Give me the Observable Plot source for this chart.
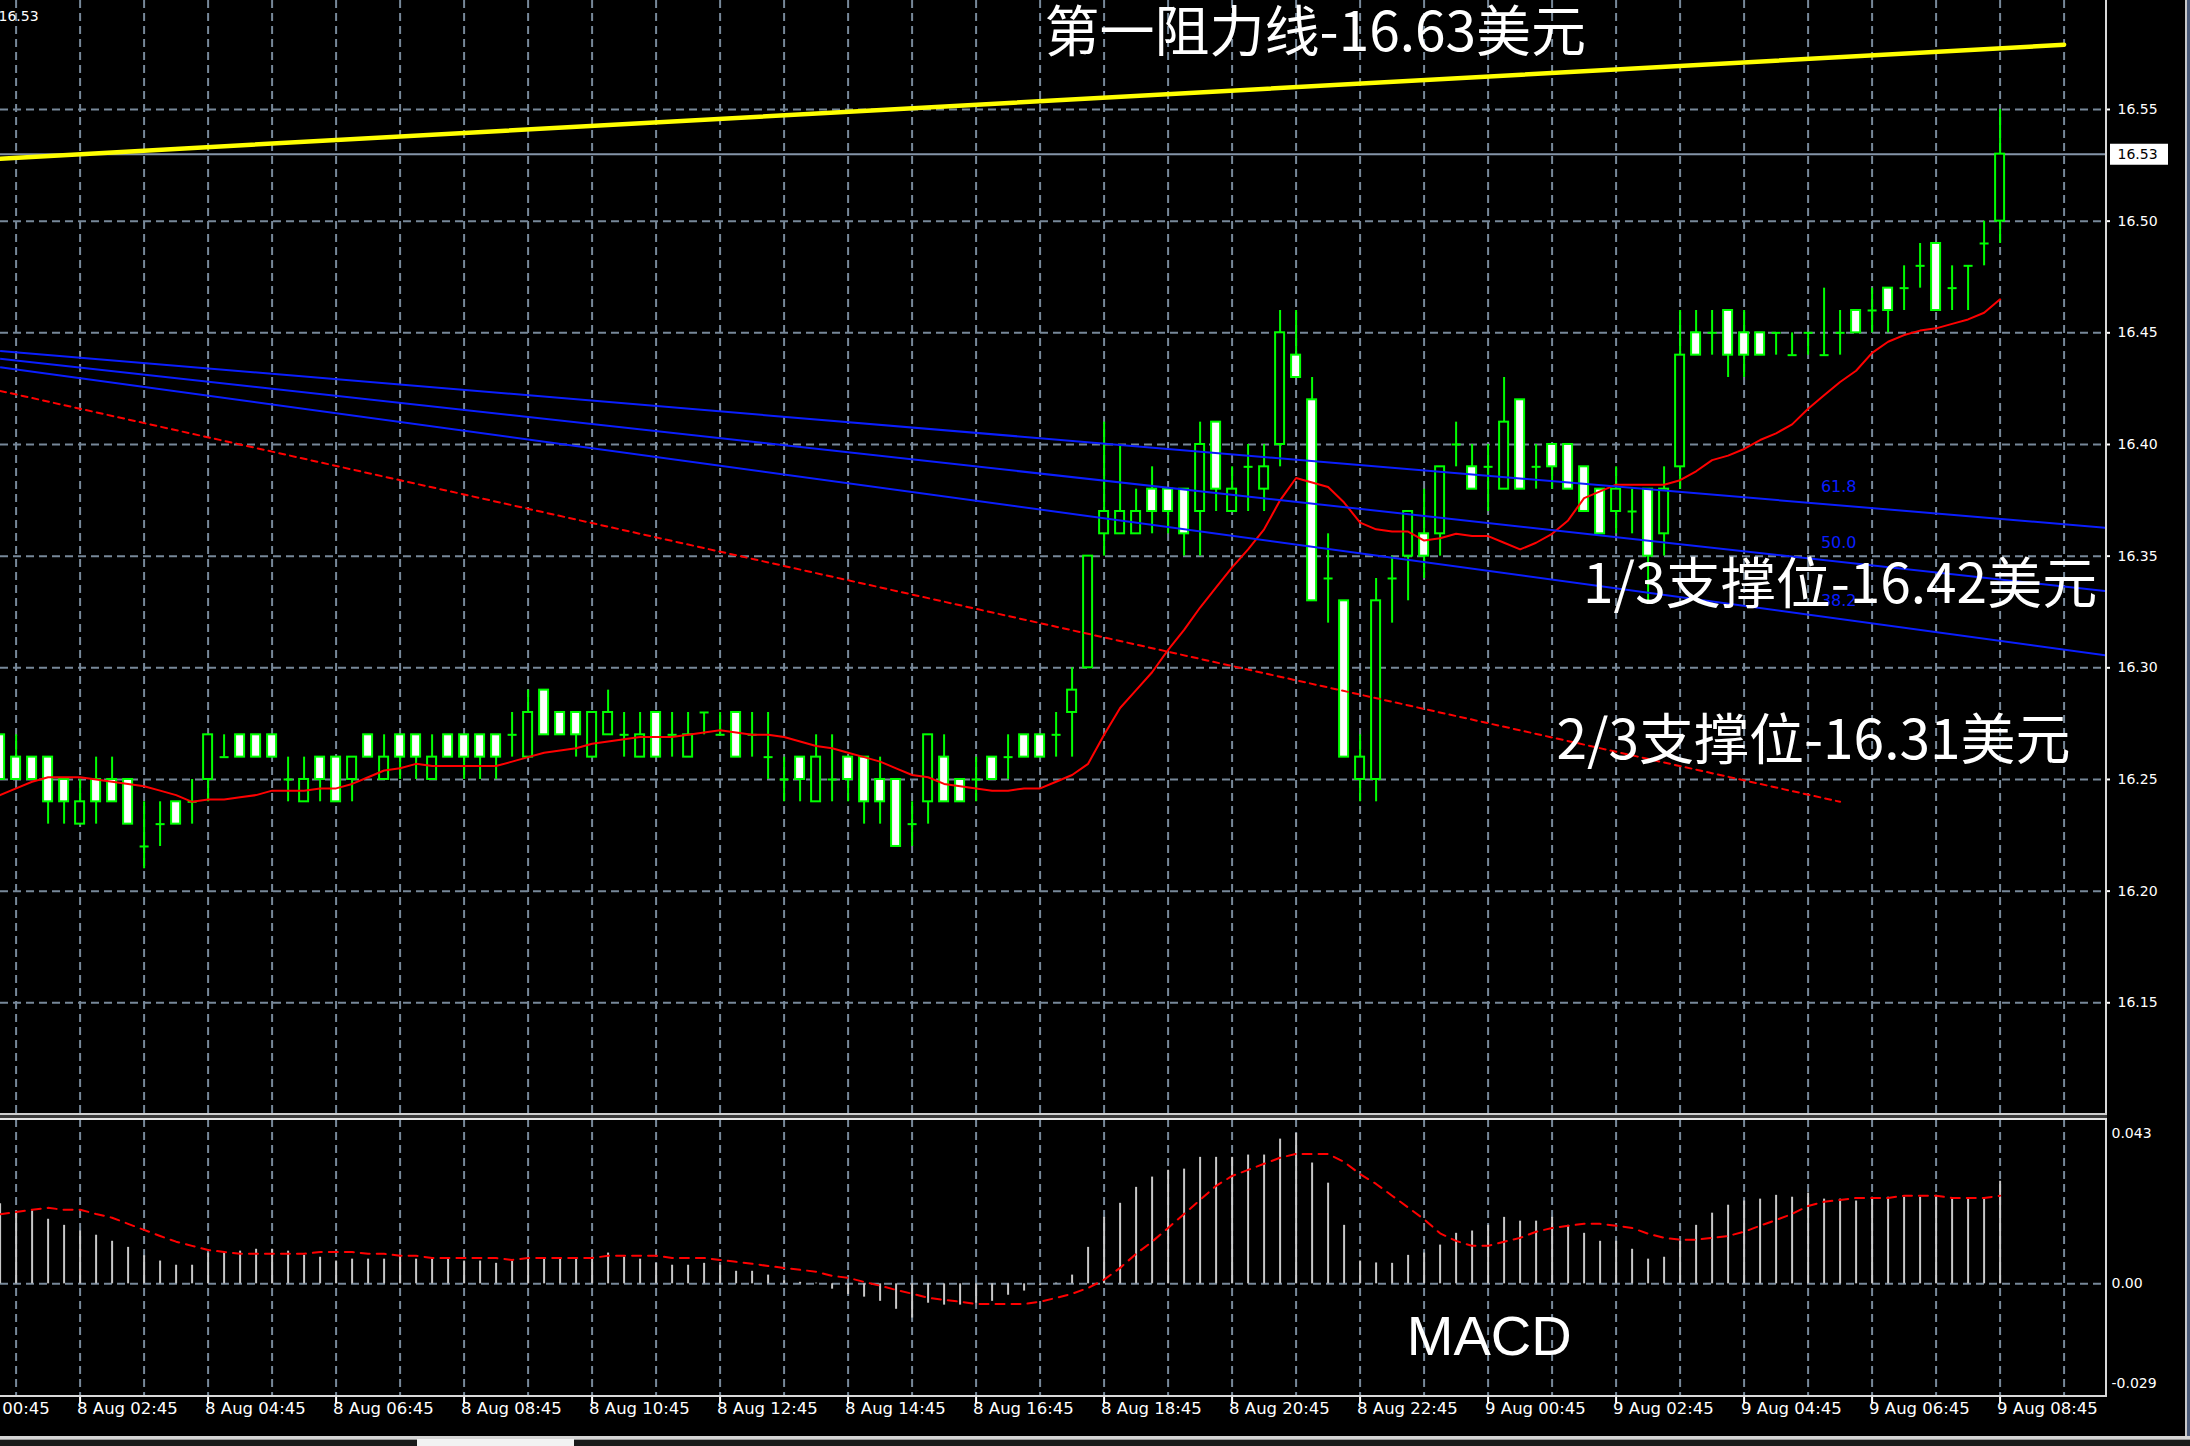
<!DOCTYPE html>
<html>
<head>
<meta charset="utf-8">
<script src="https://cdn.jsdelivr.net/npm/d3@7"></script>
<script src="https://cdn.jsdelivr.net/npm/@observablehq/plot@0.6"></script>
<style>
  html, body { margin: 0; padding: 0; background: #000; }
  #chart { position: relative; width: 2190px; height: 1446px; background: #000; overflow: hidden; }
  #price, #macd { position: absolute; left: 0; }
  #price { top: 0; }
  #macd { top: 1113px; }
  .edge { position: absolute; }
</style>
</head>
<body>
<div id="chart">
  <div id="price"></div>
  <div id="macd"></div>
  <!-- window chrome: panel borders, separator, tab strip -->
  <div class="edge" style="left:2105px;top:0;width:2px;height:1397px;background:#d8d8d8"></div>
  <div class="edge" style="left:0;top:1113px;width:2107px;height:2px;background:#cfcfcf"></div>
  <div class="edge" style="left:0;top:1115px;width:2107px;height:3px;background:#3a3a3a"></div>
  <div class="edge" style="left:0;top:1118px;width:2107px;height:2px;background:#e6e6e6"></div>
  <div class="edge" style="left:0;top:1395px;width:2107px;height:2px;background:#d8d8d8"></div>
  <div class="edge" style="left:2185px;top:0;width:2px;height:1440px;background:#c8c8c8"></div>
  <div class="edge" style="left:2187px;top:0;width:3px;height:1440px;background:#4a5a78"></div>
  <div class="edge" style="left:0;top:1436px;width:2190px;height:3px;background:#d4d4d4"></div>
  <div class="edge" style="left:0;top:1439px;width:417px;height:7px;background:#1a1a1a;border-top:1px solid #9a9a9a"></div>
  <div class="edge" style="left:417px;top:1439px;width:157px;height:7px;background:#f2f2f2"></div>
  <div class="edge" style="left:574px;top:1439px;width:1616px;height:7px;background:#1a1a1a;border-top:1px solid #9a9a9a"></div>
</div>
<script>
// XAGUSD, 15-minute bars, 8 Aug 01:30 – 9 Aug 08:45
const firstBar = "2017-08-08T01:30Z";
const barMinutes = 15;

const open = [
  16.27,16.26,16.26,16.26,16.25,16.23,16.25,16.25,16.25,16.22,
  16.23,16.24,16.24,16.25,16.26,16.27,16.27,16.27,16.25,16.24,
  16.26,16.26,16.25,16.27,16.25,16.27,16.27,16.25,16.27,16.27,
  16.27,16.27,16.27,16.26,16.29,16.28,16.28,16.26,16.27,16.27,
  16.26,16.28,16.27,16.26,16.28,16.27,16.28,16.27,16.26,16.25,
  16.26,16.24,16.25,16.26,16.26,16.25,16.25,16.23,16.24,16.26,
  16.25,16.25,16.26,16.26,16.27,16.27,16.27,16.28,16.30,16.36,
  16.36,16.36,16.38,16.38,16.38,16.37,16.41,16.37,16.39,16.38,
  16.40,16.44,16.42,16.34,16.33,16.25,16.25,16.34,16.35,16.36,
  16.36,16.40,16.39,16.39,16.38,16.42,16.39,16.40,16.40,16.39,
  16.38,16.37,16.37,16.38,16.36,16.39,16.45,16.45,16.46,16.45,
  16.45,16.45,16.44,16.45,16.44,16.45,16.46,16.46,16.47,16.47,
  16.48,16.49,16.47,16.48,16.49,16.50
];
const high = [
  16.27,16.27,16.26,16.26,16.25,16.25,16.26,16.26,16.25,16.24,
  16.24,16.24,16.25,16.27,16.27,16.27,16.27,16.27,16.26,16.26,
  16.26,16.26,16.26,16.27,16.27,16.27,16.27,16.27,16.27,16.27,
  16.27,16.27,16.28,16.29,16.29,16.28,16.28,16.28,16.29,16.28,
  16.28,16.28,16.28,16.28,16.28,16.28,16.28,16.28,16.28,16.26,
  16.26,16.27,16.27,16.26,16.26,16.26,16.25,16.24,16.27,16.27,
  16.25,16.26,16.26,16.27,16.27,16.27,16.28,16.30,16.35,16.41,
  16.40,16.38,16.39,16.38,16.38,16.41,16.41,16.39,16.40,16.40,
  16.46,16.46,16.43,16.36,16.33,16.27,16.34,16.35,16.37,16.38,
  16.39,16.41,16.40,16.40,16.43,16.42,16.40,16.40,16.40,16.39,
  16.38,16.39,16.38,16.38,16.39,16.46,16.46,16.46,16.46,16.46,
  16.45,16.45,16.45,16.45,16.47,16.46,16.46,16.47,16.47,16.48,
  16.49,16.49,16.48,16.48,16.50,16.55
];
const low = [
  16.25,16.25,16.25,16.23,16.23,16.23,16.23,16.24,16.23,16.21,
  16.22,16.23,16.23,16.24,16.26,16.26,16.26,16.26,16.24,16.24,
  16.24,16.24,16.24,16.26,16.25,16.25,16.25,16.25,16.26,16.25,
  16.25,16.25,16.26,16.26,16.27,16.27,16.26,16.26,16.27,16.26,
  16.26,16.26,16.26,16.26,16.27,16.27,16.26,16.26,16.25,16.24,
  16.24,16.24,16.24,16.24,16.23,16.23,16.22,16.22,16.23,16.24,
  16.24,16.24,16.25,16.25,16.26,16.26,16.26,16.26,16.30,16.35,
  16.36,16.36,16.36,16.36,16.35,16.35,16.37,16.37,16.37,16.37,
  16.39,16.43,16.33,16.32,16.26,16.24,16.24,16.32,16.33,16.34,
  16.35,16.39,16.38,16.37,16.38,16.38,16.38,16.38,16.38,16.37,
  16.36,16.36,16.36,16.33,16.35,16.38,16.44,16.44,16.43,16.43,
  16.44,16.44,16.44,16.44,16.44,16.44,16.45,16.45,16.45,16.46,
  16.47,16.46,16.46,16.46,16.48,16.49
];
const close = [
  16.25,16.25,16.25,16.24,16.24,16.24,16.24,16.24,16.23,16.22,
  16.23,16.23,16.24,16.27,16.26,16.26,16.26,16.26,16.25,16.25,
  16.25,16.24,16.26,16.26,16.26,16.26,16.26,16.26,16.26,16.26,
  16.26,16.26,16.27,16.28,16.27,16.27,16.27,16.28,16.28,16.27,
  16.27,16.26,16.27,16.27,16.28,16.27,16.26,16.27,16.26,16.25,
  16.25,16.26,16.25,16.25,16.24,16.24,16.22,16.23,16.27,16.24,
  16.24,16.25,16.25,16.26,16.26,16.26,16.27,16.29,16.35,16.37,
  16.37,16.37,16.37,16.37,16.36,16.40,16.38,16.38,16.39,16.39,
  16.45,16.43,16.33,16.34,16.26,16.26,16.33,16.34,16.37,16.35,
  16.39,16.40,16.38,16.39,16.41,16.38,16.39,16.39,16.38,16.37,
  16.36,16.38,16.37,16.35,16.38,16.44,16.44,16.45,16.44,16.44,
  16.44,16.45,16.44,16.45,16.44,16.45,16.45,16.46,16.46,16.47,
  16.48,16.46,16.47,16.48,16.49,16.53
];
// moving average drawn over the candles
const ma = [
  16.243,16.246,16.249,16.251,16.251,16.251,16.250,16.249,16.248,16.247,
  16.245,16.243,16.240,16.241,16.241,16.242,16.243,16.245,16.245,16.245,
  16.246,16.246,16.248,16.251,16.254,16.255,16.257,16.256,16.256,16.256,
  16.256,16.256,16.258,16.260,16.262,16.263,16.264,16.266,16.267,16.268,
  16.269,16.269,16.269,16.270,16.271,16.272,16.271,16.270,16.270,16.269,
  16.267,16.265,16.264,16.262,16.260,16.258,16.255,16.252,16.251,16.248,
  16.247,16.246,16.245,16.245,16.246,16.246,16.249,16.252,16.257,16.270,
  16.282,16.290,16.298,16.308,16.317,16.327,16.336,16.345,16.353,16.362,
  16.375,16.385,16.383,16.381,16.374,16.365,16.362,16.361,16.361,16.357,
  16.358,16.360,16.359,16.359,16.356,16.353,16.356,16.360,16.366,16.376,
  16.379,16.382,16.382,16.382,16.382,16.384,16.388,16.393,16.395,16.398,
  16.402,16.405,16.409,16.416,16.422,16.428,16.433,16.441,16.446,16.449,
  16.451,16.452,16.454,16.456,16.459,16.465
];
// MACD main (histogram) and signal
const macd = [
  0.0211,0.0189,0.0192,0.0170,0.0154,0.0139,0.0128,0.0112,0.0096,0.0074,
  0.0060,0.0049,0.0049,0.0081,0.0082,0.0086,0.0091,0.0091,0.0086,0.0075,
  0.0070,0.0060,0.0065,0.0065,0.0065,0.0075,0.0065,0.0065,0.0065,0.0060,
  0.0060,0.0054,0.0060,0.0070,0.0065,0.0065,0.0065,0.0070,0.0081,0.0070,
  0.0065,0.0054,0.0049,0.0049,0.0054,0.0049,0.0033,0.0033,0.0023,0.0008,
  0.0004,0.0002,-0.0014,-0.0028,-0.0035,-0.0046,-0.0067,-0.0090,-0.0051,-0.0056,
  -0.0056,-0.0051,-0.0046,-0.0030,-0.0019,-0.0005,0.0002,0.0023,0.0096,0.0175,
  0.0212,0.0254,0.0281,0.0299,0.0302,0.0333,0.0333,0.0333,0.0339,0.0339,
  0.0381,0.0396,0.0318,0.0265,0.0154,0.0060,0.0055,0.0054,0.0075,0.0081,
  0.0102,0.0133,0.0139,0.0154,0.0175,0.0165,0.0165,0.0175,0.0154,0.0133,
  0.0112,0.0112,0.0091,0.0065,0.0070,0.0112,0.0154,0.0186,0.0207,0.0218,
  0.0223,0.0233,0.0228,0.0239,0.0223,0.0223,0.0218,0.0228,0.0228,0.0228,
  0.0228,0.0233,0.0223,0.0223,0.0223,0.0270
];
const signal = [
  0.0183,0.0189,0.0195,0.0200,0.0195,0.0195,0.0184,0.0174,0.0158,0.0142,
  0.0126,0.0111,0.0100,0.0089,0.0084,0.0079,0.0079,0.0079,0.0079,0.0079,
  0.0084,0.0084,0.0084,0.0079,0.0079,0.0074,0.0074,0.0068,0.0068,0.0068,
  0.0068,0.0068,0.0063,0.0068,0.0068,0.0068,0.0068,0.0068,0.0074,0.0074,
  0.0074,0.0074,0.0068,0.0068,0.0068,0.0063,0.0058,0.0053,0.0047,0.0042,
  0.0037,0.0032,0.0021,0.0016,0.0005,-0.0005,-0.0016,-0.0026,-0.0037,-0.0042,
  -0.0047,-0.0053,-0.0053,-0.0053,-0.0053,-0.0047,-0.0037,-0.0026,-0.0011,0.0011,
  0.0042,0.0079,0.0111,0.0147,0.0184,0.0221,0.0258,0.0284,0.0300,0.0316,
  0.0332,0.0342,0.0342,0.0342,0.0321,0.0289,0.0263,0.0232,0.0201,0.0170,
  0.0133,0.0113,0.0100,0.0100,0.0111,0.0121,0.0137,0.0147,0.0153,0.0158,
  0.0158,0.0153,0.0147,0.0132,0.0121,0.0116,0.0116,0.0121,0.0126,0.0137,
  0.0153,0.0168,0.0184,0.0205,0.0216,0.0221,0.0226,0.0226,0.0226,0.0232,
  0.0232,0.0232,0.0226,0.0226,0.0226,0.0232
];

// axes
const priceTicks = [16.15, 16.20, 16.25, 16.30, 16.35, 16.40, 16.45, 16.50, 16.55];
const timeTicks = [
  "2017-08-08T00:45Z","2017-08-08T02:45Z","2017-08-08T04:45Z","2017-08-08T06:45Z",
  "2017-08-08T08:45Z","2017-08-08T10:45Z","2017-08-08T12:45Z","2017-08-08T14:45Z",
  "2017-08-08T16:45Z","2017-08-08T18:45Z","2017-08-08T20:45Z","2017-08-08T22:45Z",
  "2017-08-09T00:45Z","2017-08-09T02:45Z","2017-08-09T04:45Z","2017-08-09T06:45Z",
  "2017-08-09T08:45Z"
];
const macdTicks = [0.043, 0, -0.029];
const macdTickLabels = ["0.043", "0.00", "-0.029"];

// drawn objects: resistance line, support line, Fibonacci channel
const resistanceTimes = ["2017-08-08T01:30Z", "2017-08-09T09:45Z"];
const resistancePrices = [16.528, 16.579];
const supportTimes = ["2017-08-08T01:30Z", "2017-08-09T06:15Z"];
const supportPrices = [16.424, 16.240];
const fibLevels = ["61.8", "50.0", "38.2"];
const fibTimes = ["2017-08-08T01:30Z", "2017-08-09T10:30Z"];
const fibStart = [16.4419, 16.4384, 16.4346];
const fibEnd = [16.3625, 16.3340, 16.3052];
const fibLabelTime = "2017-08-09T05:57Z";
const fibLabelPrices = [16.381, 16.356, 16.330];

// annotations
const noteTexts = ["第一阻力线-16.63美元", "1/3支撑位-16.42美元", "2/3支撑位-16.31美元"];
const noteTimes = ["2017-08-08T22:03Z", "2017-08-09T06:15Z", "2017-08-09T05:50Z"];
const notePrices = [16.584, 16.337, 16.267];
const macdTitle = "MACD";
const macdTitleTime = "2017-08-09T00:46Z";
const macdTitleValue = -0.0141;

// ---- build tables ----
const t0 = Date.parse(firstBar);
const bars = open.map((o, i) => ({
  time: new Date(t0 + i * barMinutes * 60000),
  open: o, high: high[i], low: low[i], close: close[i],
  ma: ma[i], macd: macd[i], signal: signal[i]
}));
const lastClose = close[close.length - 1];
const hourGrid = d3.range(33).map(i => new Date(Date.parse("2017-08-08T01:45Z") + i * 3600e3));
const msPerPx = barMinutes * 60000 / 16;
const half = 4.5 * msPerPx;
const resistance = resistanceTimes.map((t, i) => ({t: new Date(t), p: resistancePrices[i]}));
const support = supportTimes.map((t, i) => ({t: new Date(t), p: supportPrices[i]}));
const fib = fibLevels.map((l, i) => ({level: l, p1: fibStart[i], p2: fibEnd[i], lp: fibLabelPrices[i]}));
const notes = noteTexts.map((s, i) => ({s, t: new Date(noteTimes[i]), p: notePrices[i]}));

const xScale = {
  type: "utc",
  domain: [new Date("2017-08-08T02:45Z"), new Date("2017-08-09T08:45Z")],
  range: [79.6, 1999.6]
};
const gridStyle = {stroke: "#778899", strokeWidth: 2, strokeDasharray: "8,5"};
const green = "#00ff00";
const blue = "#0a1eff";
const axisFont = "DejaVu Sans";
const bodyX1 = d => new Date(+d.time - half);
const bodyX2 = d => new Date(+d.time + half);

const pricePlot = Plot.plot({
  width: 2190, height: 1113,
  marginLeft: 0, marginRight: 85, marginTop: 0, marginBottom: 0,
  x: {...xScale, axis: null},
  y: {domain: [16.15, 16.55], range: [1002.3, 109], axis: null},
  style: {background: "#000", color: "#fff", overflow: "hidden"},
  marks: [
    Plot.ruleX(hourGrid, gridStyle),
    Plot.ruleY(priceTicks, gridStyle),
    Plot.ruleY([lastClose], {stroke: "#8494a8", strokeWidth: 2}),
    // candles
    Plot.ruleX(bars, {x: "time", y1: "low", y2: "high", stroke: green, strokeWidth: 2}),
    Plot.rect(bars.filter(d => d.close > d.open), {x1: bodyX1, x2: bodyX2, y1: "open", y2: "close", fill: "#000", stroke: green, strokeWidth: 2}),
    Plot.rect(bars.filter(d => d.close < d.open), {x1: bodyX1, x2: bodyX2, y1: "open", y2: "close", fill: "#fff", stroke: green, strokeWidth: 2}),
    Plot.link(bars.filter(d => d.close === d.open), {x1: bodyX1, x2: bodyX2, y1: "open", y2: "open", stroke: green, strokeWidth: 2}),
    // moving average
    Plot.line(bars, {x: "time", y: "ma", stroke: "#ff0000", strokeWidth: 2}),
    // support trend line
    Plot.line(support, {x: "t", y: "p", stroke: "#ff0000", strokeWidth: 2, strokeDasharray: "6,5", clip: true}),
    // Fibonacci channel
    Plot.link(fib, {x1: () => new Date(fibTimes[0]), x2: () => new Date(fibTimes[1]), y1: "p1", y2: "p2", stroke: blue, strokeWidth: 2, clip: true}),
    Plot.text(fib, {x: () => new Date(fibLabelTime), y: "lp", text: "level", fill: blue, fontSize: 16, fontFamily: axisFont, textAnchor: "start"}),
    // resistance line
    Plot.line(resistance, {x: "t", y: "p", stroke: "#ffff00", strokeWidth: 4.5, clip: true}),
    // price axis
    Plot.ruleY(priceTicks, {stroke: "#fff", strokeWidth: 2, insetLeft: 2100, dx: 5}),
    Plot.text(priceTicks, {y: d => d, frameAnchor: "right", dx: 12, textAnchor: "start", text: d => d.toFixed(2), fill: "#fff", fontSize: 14, fontFamily: axisFont}),
    Plot.ruleY([lastClose], {stroke: "#fff", strokeWidth: 21, insetLeft: 2047, dx: 63}),
    Plot.text([lastClose], {y: d => d, frameAnchor: "right", dx: 12, textAnchor: "start", text: d => d.toFixed(2), fill: "#000", fontSize: 14, fontFamily: axisFont}),
    Plot.text([lastClose], {frameAnchor: "top-left", dx: -2, dy: 11, textAnchor: "start", text: d => d.toFixed(2), fill: "#fff", fontSize: 14, fontFamily: axisFont}),
    // annotations
    Plot.text(notes, {x: "t", y: "p", text: "s", fill: "#fff", fontSize: 55, fontFamily: "Noto Sans CJK SC"})
  ]
});
document.getElementById("price").append(pricePlot);

const fmt = d3.utcFormat("%-d %b %H:%M");
const macdPlot = Plot.plot({
  width: 2190, height: 333,
  marginLeft: 0, marginRight: 85, marginTop: 6, marginBottom: 50,
  x: {...xScale, axis: null},
  y: {domain: [-0.029, 0.043], range: [280.5, 7], axis: null},
  style: {background: "#000", color: "#fff", overflow: "hidden"},
  marks: [
    Plot.ruleX(hourGrid, gridStyle),
    Plot.ruleY([0], gridStyle),
    Plot.ruleX(bars, {x: "time", y1: 0, y2: "macd", stroke: "#c8c8c8", strokeWidth: 2}),
    Plot.line(bars, {x: "time", y: "signal", stroke: "#ff0000", strokeWidth: 2, strokeDasharray: "9,7"}),
    Plot.text([macdTitle], {x: () => new Date(macdTitleTime), y: () => macdTitleValue, text: d => d, fill: "#fff", fontSize: 56, fontFamily: "Liberation Sans"}),
    // value axis
    Plot.text([macdTicks[0]], {y: d => d, frameAnchor: "right", dx: 6, dy: 13, textAnchor: "start", text: () => macdTickLabels[0], fill: "#fff", fontSize: 14, fontFamily: axisFont}),
    Plot.text([macdTicks[1]], {y: d => d, frameAnchor: "right", dx: 6, textAnchor: "start", text: () => macdTickLabels[1], fill: "#fff", fontSize: 14, fontFamily: axisFont}),
    Plot.text([macdTicks[2]], {y: d => d, frameAnchor: "right", dx: 6, dy: -10, textAnchor: "start", text: () => macdTickLabels[2], fill: "#fff", fontSize: 14, fontFamily: axisFont}),
    // time axis
    Plot.ruleX(timeTicks, {x: d => new Date(d), stroke: "#fff", strokeWidth: 2, insetTop: 270, dy: 7}),
    Plot.text(timeTicks, {x: d => new Date(d), frameAnchor: "bottom", dy: 17, dx: -3, textAnchor: "start", text: d => fmt(new Date(d)), fill: "#fff", fontSize: 16.5, fontFamily: axisFont})
  ]
});
document.getElementById("macd").append(macdPlot);
</script>
</body>
</html>
